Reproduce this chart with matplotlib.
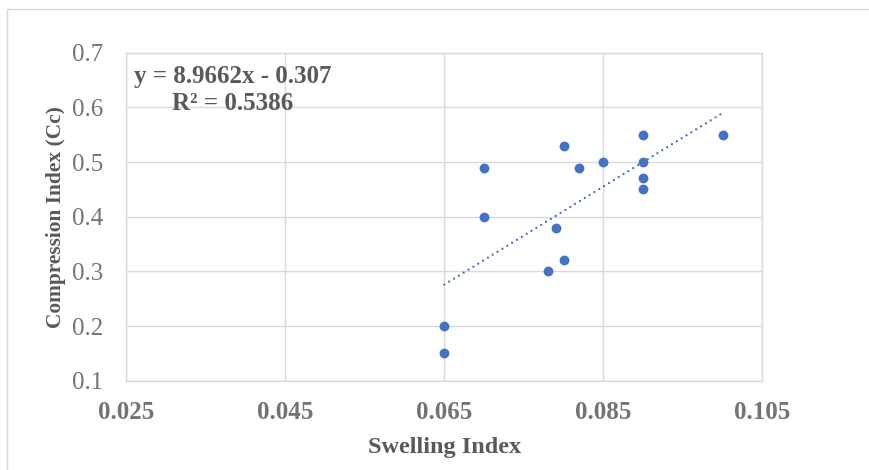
import numpy as np
import matplotlib
matplotlib.use("Agg")
import matplotlib.pyplot as plt
from matplotlib.patches import Rectangle

# swelling index (Cs) vs compression index (Cc) test results
swelling_index = [0.065, 0.065, 0.070, 0.070, 0.078, 0.079, 0.080, 0.080,
                  0.082, 0.085, 0.090, 0.090, 0.090, 0.090, 0.100]
compression_index = [0.20, 0.15, 0.49, 0.40, 0.30, 0.38, 0.53, 0.32,
                     0.49, 0.50, 0.55, 0.50, 0.47, 0.45, 0.55]

# linear trendline as reported
slope = 8.9662
intercept = -0.307
r_squared = 0.5386

x_ticks = [0.025, 0.045, 0.065, 0.085, 0.105]
y_ticks = [0.1, 0.2, 0.3, 0.4, 0.5, 0.6, 0.7]

plt.rcParams['font.family'] = ['Liberation Serif', 'DejaVu Serif']

blue = '#4472C4'
grid_col = '#d9d9d9'
title_col = '#595959'
tick_col = '#737373'

fig = plt.figure(figsize=(8.69, 4.70), dpi=100)
ax = fig.add_axes([126.3 / 869, 1 - 380.7 / 470, 636 / 869, 328 / 470])

# chart border
fig.patches.append(Rectangle((7.5 / 869, -0.05), 1.1, 1.05 - 8.5 / 470,
                             transform=fig.transFigure, fill=False,
                             edgecolor=grid_col, linewidth=1.0))

ax.set_xlim(x_ticks[0], x_ticks[-1])
ax.set_ylim(y_ticks[0], y_ticks[-1])
ax.set_xticks(x_ticks, [f'{v:.3f}' for v in x_ticks])
ax.set_yticks(y_ticks, [f'{v:.1f}' for v in y_ticks])
ax.grid(True, color=grid_col, linewidth=1.0)
ax.set_axisbelow(True)
for s in ax.spines.values():
    s.set_color(grid_col)
    s.set_linewidth(1.0)
ax.tick_params(length=0)
ax.tick_params(axis='x', pad=14.5, labelsize=18, labelcolor=tick_col)
ax.tick_params(axis='y', pad=16.5, labelsize=18, labelcolor=tick_col)
for lbl in ax.get_xticklabels():
    lbl.set_fontweight('bold')

ax.scatter(swelling_index, compression_index, s=50, color=blue, zorder=3,
           linewidths=0)

# dotted trendline over the data range
tx = np.array([min(swelling_index), max(swelling_index)])
ax.plot(tx, slope * tx + intercept, color=blue, linewidth=1.7,
        linestyle=(0, (0.01, 2.4)), dash_capstyle='round', zorder=2)

ax.text(233 / 869, 1 - 76 / 470, f'y = {slope}x - {abs(intercept)}',
        transform=fig.transFigure, ha='center', va='center', fontsize=18,
        fontweight='bold', color=title_col)
ax.text(233 / 869, 1 - 103 / 470, f'R² = {r_squared}',
        transform=fig.transFigure, ha='center', va='center', fontsize=18,
        fontweight='bold', color=title_col)

fig.text(444.3 / 869, 1 - 447 / 470, 'Swelling Index', ha='center',
         va='center', fontsize=17.5, fontweight='bold', color=title_col)
fig.text(56 / 869, 1 - 216.7 / 470, 'Compression Index (Cc)', ha='center',
         va='center', rotation=90, fontsize=15.4, fontweight='bold',
         color=title_col)

fig.savefig('out.png', dpi=100)
